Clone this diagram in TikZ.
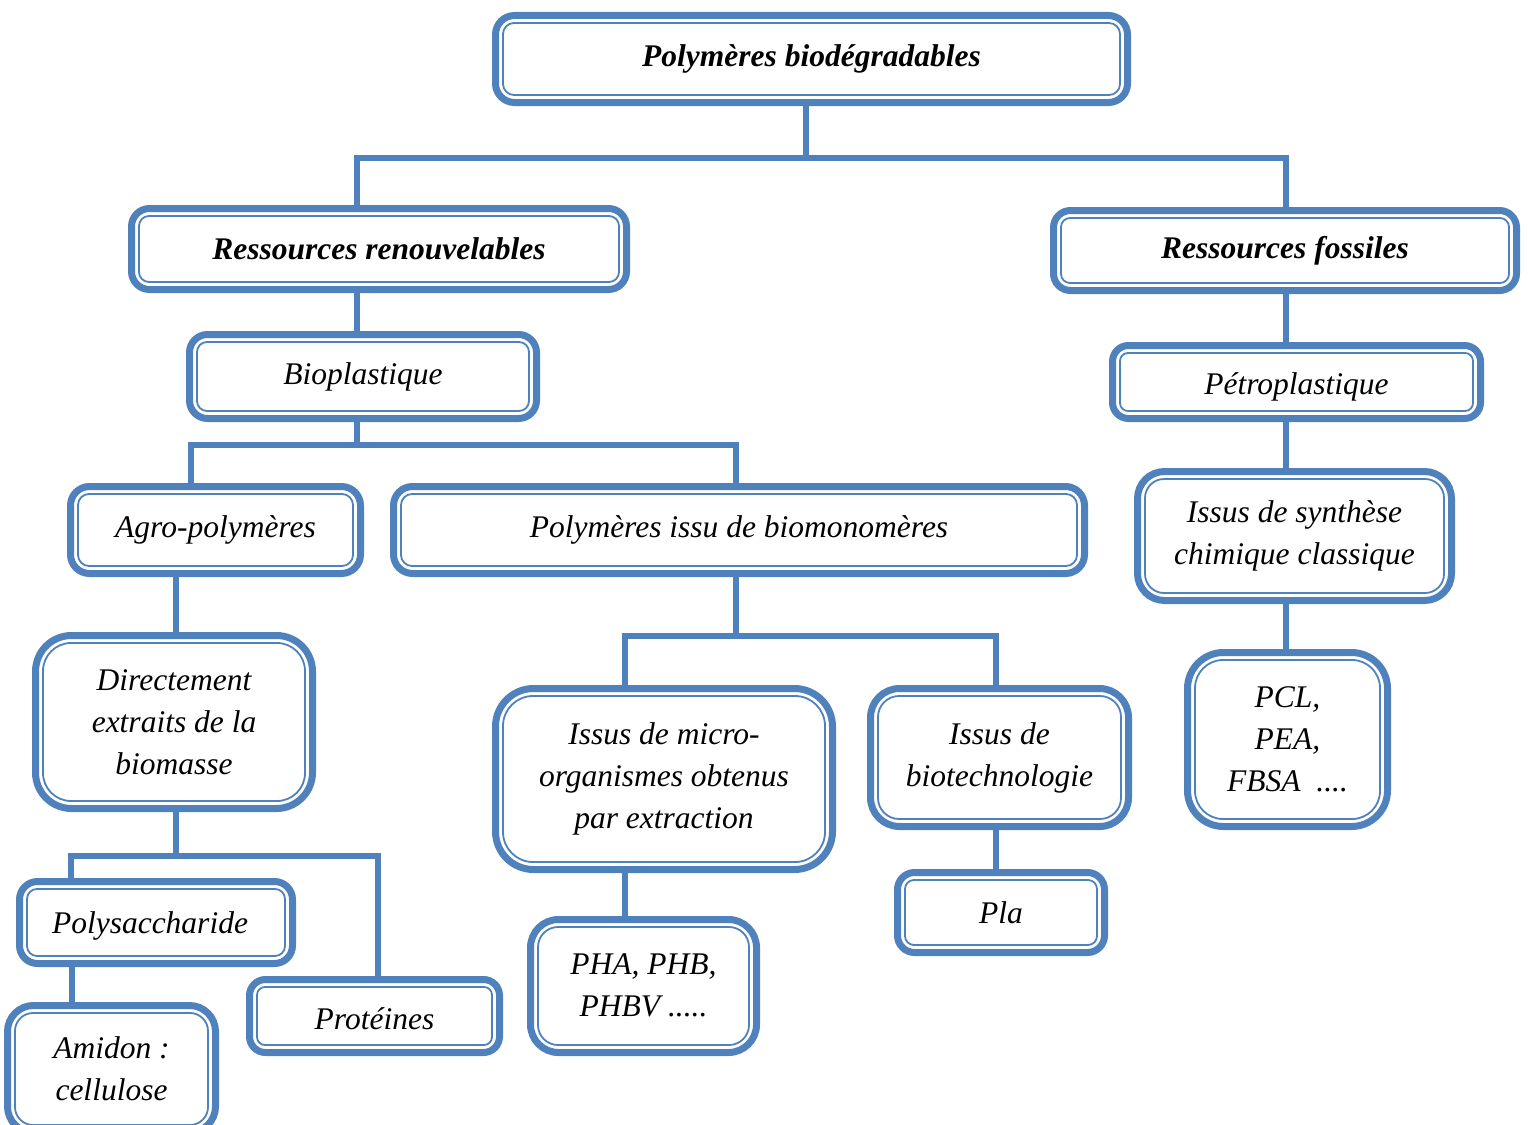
\documentclass[tikz,border=0pt]{standalone}
\usepackage{fontspec}
\setmainfont{Liberation Serif}
\begin{document}
\definecolor{boxblue}{RGB}{79,129,189}
\tikzset{
  outerln/.style={draw=boxblue, line width=7pt, fill=white},
  innerln/.style={draw=boxblue, line width=1.8pt},
  conn/.style={draw=boxblue, line width=5.5pt},
  lbl/.style={inner sep=0pt, align=center, font=\fontsize{31.5}{42}\selectfont\itshape},
  lblb/.style={lbl, font=\fontsize{31.5}{42}\selectfont\bfseries\itshape}
}
% \bx[text drop]{name}{x1}{y1}{x2}{y2}{corner radius}{style}{text}
\newcommand\bx[9][0]{%
  \path[outerln, rounded corners=#7] (#3+3.5,#4+3.5) rectangle (#5-3.5,#6-3.5);
  \path[innerln, rounded corners={#7-8}] (#3+11,#4+11) rectangle (#5-11,#6-11);
  \node[inner sep=0pt, minimum width={#5-#3}, minimum height={#6-#4}] (#2)
    at ({(#3+#5)/2},{(#4+#6)/2}) {};
  \node[#8] at ([yshift=-#1]#2.center) {#9};%
}
\begin{tikzpicture}[x=1pt,y=-1pt]
\useasboundingbox (0,0) rectangle (1528,1124);

% junction points of the tree
\coordinate (jt) at (806,158);
\coordinate (hL) at (357,158);
\coordinate (hR) at (1286,158);
\coordinate (b0) at (357,445);
\coordinate (bL) at (191,445);
\coordinate (bR) at (736,445);
\coordinate (ag) at (176,600);
\coordinate (p0) at (736,636);
\coordinate (pL) at (625,636);
\coordinate (pR) at (996,636);
\coordinate (d0) at (176,856);
\coordinate (dL) at (71,856);
\coordinate (dR) at (378,856);
\coordinate (am) at (72,990);

% boxes
\bx{top}{492}{12}{1131}{106}{19}{lblb}{Polymères biodégradables}
\bx{ren}{128}{205}{630}{293}{18}{lblb}{Ressources renouvelables}
\bx{fos}{1050}{207}{1520}{294}{17}{lblb}{Ressources fossiles}
\bx{bio}{186}{331}{540}{422}{18}{lbl}{Bioplastique}
\bx[5pt]{pet}{1109}{342}{1484}{422}{16}{lbl}{Pétroplastique}
\bx{agr}{67}{483}{364}{577}{19}{lbl}{Agro-polymères}
\bx{pib}{390}{483}{1088}{577}{19}{lbl}{Polymères issu de biomonomères}
\bx{syn}{1134}{468}{1455}{604}{27}{lbl}{Issus de synthèse\\chimique classique}
\bx{dir}{32}{632}{316}{812}{36}{lbl}{Directement\\extraits de la\\biomasse}
\bx{mic}{492}{685}{836}{873}{38}{lbl}{Issus de micro-\\organismes obtenus\\par extraction}
\bx{bte}{867}{685}{1132}{830}{29}{lbl}{Issus de\\biotechnologie}
\bx{pcl}{1184}{649}{1391}{830}{36}{lbl}{PCL,\\PEA,\\FBSA \ ....}
\bx[3pt]{pol}{16}{878}{296}{967}{18}{lbl}{\hspace*{-12pt}Polysaccharide}
\bx[3pt]{pro}{246}{976}{503}{1056}{16}{lbl}{Protéines}
\bx[-1pt]{pha}{527}{916}{760}{1056}{28}{lbl}{PHA, PHB,\\PHBV .....}
\bx{pla}{894}{869}{1108}{956}{17}{lbl}{Pla}
\bx{ami}{4}{1002}{219}{1136}{26}{lbl}{Amidon :\\cellulose}

% connectors between the boxes
\draw[conn] (top.south -| jt) -- (jt);
\draw[conn] (ren.north -| hL) -- (hL) -- (hR) -- (fos.north -| hR);
\draw[conn] (ren.south -| hL) -- (bio.north -| hL);
\draw[conn] (bio.south -| b0) -- (b0);
\draw[conn] (agr.north -| bL) -- (bL) -- (bR) -- (pib.north -| bR);
\draw[conn] (fos.south -| hR) -- (pet.north -| hR);
\draw[conn] (pet.south -| hR) -- (syn.north -| hR);
\draw[conn] (syn.south -| hR) -- (pcl.north -| hR);
\draw[conn] (agr.south -| ag) -- (dir.north -| ag);
\draw[conn] (pib.south -| p0) -- (p0);
\draw[conn] (mic.north -| pL) -- (pL) -- (pR) -- (bte.north -| pR);
\draw[conn] (dir.south -| d0) -- (d0);
\draw[conn] (pol.north -| dL) -- (dL) -- (dR) -- (pro.north -| dR);
\draw[conn] (pol.south -| am) -- (ami.north -| am);
\draw[conn] (mic.south -| pL) -- (pha.north -| pL);
\draw[conn] (bte.south -| pR) -- (pla.north -| pR);
\end{tikzpicture}
\end{document}
